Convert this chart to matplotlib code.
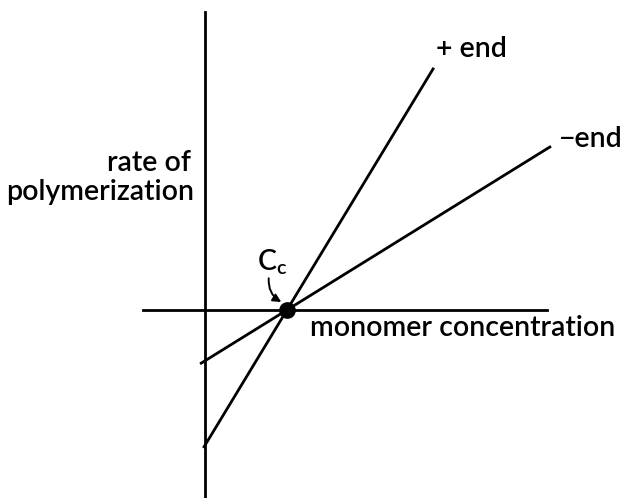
import matplotlib.pyplot as plt
import numpy as np

# critical concentration and slopes of the two ends
cc = 1.0
plus_k = 1.65
minus_k = 0.62
plus_c = [-0.02, 2.79]
minus_c = [-0.06, 4.22]

# axis extents (monomer conc., rate)
xaxis_c = [-0.76, 4.17]
yaxis_r = [-2.29, 3.63]

plt.rcParams['font.family'] = ['Lato', 'DejaVu Sans']

fig = plt.figure(figsize=(6.29, 4.98), dpi=100)
ax = fig.add_axes([0, 0, 1, 1])
ax.set_xlim(-2.5, 5.171)
ax.set_ylim(-2.293, 3.78)
ax.axis('off')

lw = 2.0
ax.plot(xaxis_c, [0, 0], color='black', lw=lw)
ax.plot([0, 0], yaxis_r, color='black', lw=lw)

pc = np.array(plus_c)
mc = np.array(minus_c)
ax.plot(pc, plus_k * (pc - cc), color='black', lw=lw, solid_capstyle='butt')
ax.plot(mc, minus_k * (mc - cc), color='black', lw=lw, solid_capstyle='butt')
ax.plot([cc], [0], 'o', color='black', ms=11)

fs = 20.5
kw = dict(fontsize=fs, fontweight='semibold', va='center')
ax.text(2.82, 3.18, '+ end', ha='left', **kw)
ax.text(4.32, 2.09, '\u2212end', ha='left', **kw)
ax.text(-0.17, 1.79, 'rate of', ha='right', **kw)
ax.text(-0.13, 1.44, 'polymerization', ha='right', **kw)
ax.text(1.28, -0.22, 'monomer concentration', ha='left', **kw)
ax.text(0.64, 0.58, 'C$_\\mathregular{c}$', ha='left', **kw)

ax.annotate('', xy=(cc - 0.04, 0.08), xytext=(0.78, 0.42),
            arrowprops=dict(arrowstyle='-|>', color='black', lw=1.4,
                            connectionstyle='arc3,rad=0.35', mutation_scale=12))

fig.savefig('out.png', dpi=100)
